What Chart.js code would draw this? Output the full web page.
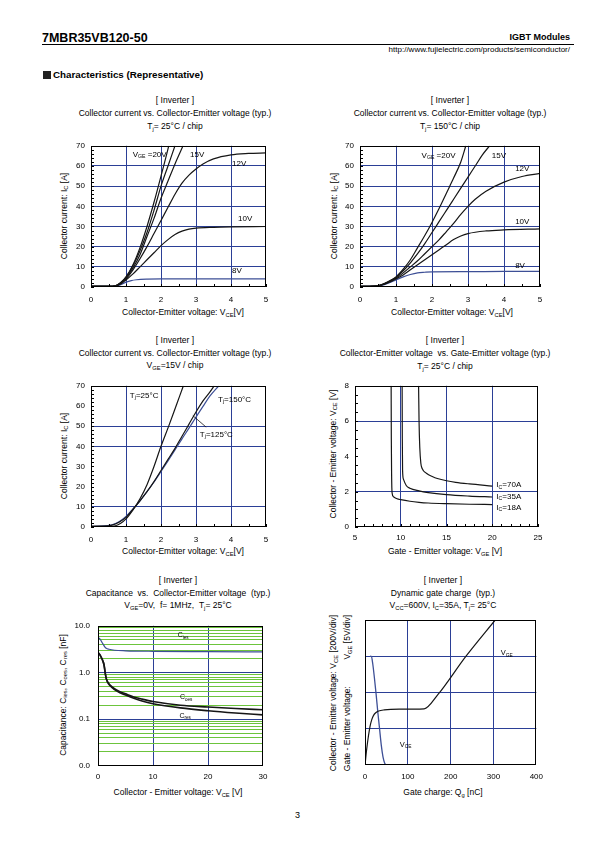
<!DOCTYPE html>
<html><head><meta charset="utf-8">
<script src="https://cdn.jsdelivr.net/npm/chart.js@4.4.1/dist/chart.umd.min.js"></script>
<style>
body{margin:0;width:595px;height:842px;background:#fff;position:relative;font-family:'Liberation Sans',Arial,sans-serif;color:#000;overflow:hidden}
.abs{position:absolute;white-space:nowrap;line-height:1}
.ttl{position:absolute;white-space:nowrap;font-size:8.5px;transform:translateX(-50%);line-height:1}
sub{font-size:68%;vertical-align:-1.5px;line-height:0}
.rot{position:absolute;white-space:nowrap;font-size:8.5px;transform:translate(-50%,-50%) rotate(-90deg);line-height:1.9;text-align:center}
canvas{position:absolute}
</style></head><body>
<div class="abs" style="left:42px;top:32px;font-size:12.5px;font-weight:bold">7MBR35VB120-50</div>
<div class="abs" style="right:25px;top:33px;font-size:9px;font-weight:bold">IGBT Modules</div>
<div style="position:absolute;left:42px;top:44px;width:532px;height:1px;background:#000"></div>
<div class="abs" style="right:25px;top:46px;font-size:8px">http://www.fujielectric.com/products/semiconductor/</div>
<div style="position:absolute;left:43px;top:71px;width:8px;height:8px;background:#222"></div>
<div class="abs" style="left:53px;top:70px;font-size:9.8px;font-weight:bold">Characteristics (Representative)</div>

<div class="ttl" style="left:175px;top:95.5px">[ Inverter ]</div>
<div class="ttl" style="left:175px;top:108.5px">Collector current vs. Collector-Emitter voltage (typ.)</div>
<div class="ttl" style="left:175px;top:121.5px">T<sub>j</sub>= 25°C / chip</div>
<div class="ttl" style="left:450px;top:95.5px">[ Inverter ]</div>
<div class="ttl" style="left:450px;top:108.5px">Collector current vs. Collector-Emitter voltage (typ.)</div>
<div class="ttl" style="left:450px;top:121.5px">T<sub>j</sub>= 150°C / chip</div>
<div class="ttl" style="left:175px;top:335.5px">[ Inverter ]</div>
<div class="ttl" style="left:175px;top:348.5px">Collector current vs. Collector-Emitter voltage (typ.)</div>
<div class="ttl" style="left:175px;top:360.5px">V<sub>GE</sub>=15V / chip</div>
<div class="ttl" style="left:445px;top:335.5px">[ Inverter ]</div>
<div class="ttl" style="left:445px;top:348.5px">Collector-Emitter voltage &nbsp;vs. Gate-Emitter voltage (typ.)</div>
<div class="ttl" style="left:445px;top:361.5px">T<sub>j</sub>= 25°C / chip</div>
<div class="ttl" style="left:178px;top:575.5px">[ Inverter ]</div>
<div class="ttl" style="left:178px;top:588.5px">Capacitance &nbsp;vs. &nbsp;Collector-Emitter voltage &nbsp;(typ.)</div>
<div class="ttl" style="left:178px;top:600.5px">V<sub>GE</sub>=0V, &nbsp;f= 1MHz, &nbsp;T<sub>j</sub>= 25°C</div>
<div class="ttl" style="left:443px;top:575.5px">[ Inverter ]</div>
<div class="ttl" style="left:443px;top:588.5px">Dynamic gate charge &nbsp;(typ.)</div>
<div class="ttl" style="left:443px;top:600.5px">V<sub>CC</sub>=600V, I<sub>C</sub>=35A, T<sub>j</sub>= 25°C</div>

<div class="ttl" style="left:183px;top:307.5px">Collector-Emitter voltage: V<sub>CE</sub>[V]</div>
<div class="ttl" style="left:452px;top:307.5px">Collector-Emitter voltage: V<sub>CE</sub>[V]</div>
<div class="ttl" style="left:183px;top:546.5px">Collector-Emitter voltage: V<sub>CE</sub>[V]</div>
<div class="ttl" style="left:445px;top:546.5px">Gate - Emitter voltage: V<sub>GE</sub> [V]</div>
<div class="ttl" style="left:178px;top:787.5px">Collector - Emitter voltage: V<sub>CE</sub> [V]</div>
<div class="ttl" style="left:443px;top:787.5px">Gate charge: Q<sub>g</sub> [nC]</div>

<div class="rot" style="left:64px;top:216px">Collector current: I<sub>C</sub> [A]</div>
<div class="rot" style="left:334px;top:216px">Collector current: I<sub>C</sub> [A]</div>
<div class="rot" style="left:64px;top:456px">Collector current: I<sub>C</sub> [A]</div>
<div class="rot" style="left:333px;top:454px">Collector - Emitter voltage: V<sub>CE</sub> [V]</div>
<div class="rot" style="left:63px;top:695px">Capacitance: C<sub>ies</sub>, C<sub>oes</sub>, C<sub>res</sub> [nF]</div>
<div class="rot" style="left:341px;top:693px;line-height:1.6"><div>Collector - Emitter voltage: V<sub>CE</sub> [200V/div]</div><div style="display:flex;justify-content:space-between"><span>Gate - Emitter voltage:</span><span>V<sub>GE</sub> [5V/div]</span></div></div>

<div class="abs" style="left:295px;top:811px;font-size:9px">3</div>

<script>
// ---------- DATA ----------
// Fig.1  Ic vs Vce, Tj=25°C  [Vce(V), Ic(A)]
const f1_VGE20a = [[0,0.3],[0.5,0.3],[0.7,0.6],[0.85,2.2],[1.0,5],[1.2,11],[1.4,19.5],[1.6,30],[1.8,42],[2.0,55],[2.2,68.5],[2.22,70]];
const f1_VGE20b = [[0,0.3],[0.5,0.3],[0.7,0.6],[0.85,2.1],[1.0,4.8],[1.2,10.5],[1.4,18],[1.6,27],[1.8,38],[2.0,50],[2.2,60],[2.4,70]];
const f1_VGE15  = [[0,0.3],[0.5,0.3],[0.7,0.6],[0.85,2],[1.0,4.5],[1.2,9.5],[1.4,16],[1.6,25],[1.8,34],[2.0,44],[2.2,52.5],[2.4,61],[2.63,70]];
const f1_VGE12  = [[0,0.3],[0.5,0.3],[0.7,0.5],[0.85,1.8],[1.0,4],[1.2,8.5],[1.4,14],[1.6,20],[1.8,26.5],[2.0,33],[2.2,39.5],[2.4,46],[2.6,51.5],[2.8,55.5],[3.0,58.5],[3.2,61],[3.5,63.5],[4.0,65.5],[4.5,66.2],[5,66.5]];
const f1_VGE10  = [[0,0.3],[0.5,0.3],[0.7,0.5],[0.85,1.5],[1.0,3.5],[1.2,6.5],[1.4,10],[1.6,13.5],[1.8,17],[2.0,20.5],[2.2,23.5],[2.4,26],[2.6,27.7],[2.8,28.7],[3.0,29.2],[3.5,29.6],[4,29.8],[5,30]];
const f1_VGE8   = [[0,0.3],[0.5,0.3],[0.7,0.4],[0.85,1.2],[1.0,2.4],[1.15,3.2],[1.3,3.6],[1.6,3.9],[2,4],[3,4],[4,4],[5,4]];
// Fig.2  Ic vs Vce, Tj=150°C
const f2_VGE20 = [[0,0.3],[0.4,0.4],[0.6,1.2],[0.8,2.8],[1.0,5],[1.2,8.8],[1.4,13.5],[1.6,19.5],[1.8,25.5],[2.0,32],[2.2,39],[2.4,46.5],[2.6,54],[2.8,62],[2.94,70]];
const f2_VGE15 = [[0,0.3],[0.4,0.4],[0.6,1.1],[0.8,2.7],[1.0,4.7],[1.2,8],[1.4,12],[1.6,16.5],[1.8,21.5],[2.0,27],[2.2,32.5],[2.4,38],[2.6,43.5],[2.8,49],[3.0,54.5],[3.2,60],[3.4,65.5],[3.6,70]];
const f2_VGE12 = [[0,0.3],[0.4,0.4],[0.6,1],[0.8,2.5],[1.0,4.3],[1.2,7],[1.4,10],[1.6,13],[1.8,16.5],[2.0,20],[2.2,23.5],[2.4,27.5],[2.6,31.5],[2.8,36],[3.0,40],[3.2,43.5],[3.5,47.5],[4.0,52],[4.5,54.8],[5,56.3]];
const f2_VGE10 = [[0,0.3],[0.4,0.4],[0.6,1],[0.8,2.3],[1.0,4],[1.2,6],[1.4,8.5],[1.6,11],[1.8,13.5],[2.0,16],[2.2,18.5],[2.4,21],[2.6,23.5],[2.8,25.3],[3.0,26.5],[3.5,27.8],[4.0,28.3],[5,28.8]];
const f2_VGE8  = [[0,0.3],[0.4,0.3],[0.6,0.8],[0.8,2],[1.0,3.5],[1.2,5],[1.4,6.2],[1.6,7],[1.8,7.3],[2.0,7.5],[3,7.6],[4,7.7],[5,7.7]];
// Fig.3  Ic vs Vce, Vge=15V
const f3_Tj25  = [[0,0.3],[0.5,0.3],[0.7,0.6],[0.85,1.8],[1.0,4],[1.2,8.5],[1.4,14],[1.6,21],[1.8,30],[2.0,40],[2.22,50],[2.43,60],[2.64,70]];
const f3_Tj125 = [[0,0.3],[0.4,0.4],[0.6,0.9],[0.8,2.4],[1.0,4.8],[1.2,8.8],[1.4,13],[1.6,17.5],[1.8,22.5],[2.0,28],[2.2,33.5],[2.4,39],[2.6,45],[2.8,51],[3.0,57],[3.2,62.5],[3.4,67],[3.52,70]];
const f3_Tj150 = [[0,0.3],[0.3,0.4],[0.6,1.1],[0.8,2.6],[1.0,5.2],[1.2,9],[1.4,13],[1.6,17.5],[1.8,22.3],[2.0,27.5],[2.2,32.8],[2.4,38.2],[2.6,43.7],[2.8,49],[3.0,54.5],[3.2,59.8],[3.4,65],[3.65,70]];
// Fig.4  Vce vs Vge, Tj=25°C  [Vge(V), Vce(V)]
const f4_IC70 = [[11.95,8],[12.0,6],[12.08,4.5],[12.2,3.6],[12.35,3.3],[12.8,3.05],[13.5,2.85],[14,2.75],[15,2.62],[16,2.53],[17.5,2.44],[20,2.32]];
const f4_IC35 = [[10.15,8],[10.17,5],[10.2,3.2],[10.3,2.7],[10.6,2.35],[11,2.2],[12,2.05],[13,1.95],[15,1.83],[17.5,1.75],[20,1.7]];
const f4_IC18 = [[8.95,8],[8.97,5],[9.0,3],[9.05,1.95],[9.2,1.72],[9.6,1.6],[10,1.55],[11,1.46],[12,1.4],[13,1.36],[15,1.32],[17.5,1.29],[20,1.27]];
// Fig.5  Capacitance vs Vce  [Vce(V), C(nF)]
const f5_Cies = [[0,5.6],[0.3,5.3],[0.6,4.7],[0.9,4.1],[1.2,3.6],[1.5,3.3],[2,3.15],[3,3.0],[5,2.92],[10,2.85],[20,2.8],[30,2.76]];
const f5_Coes = [[0,2.65],[0.3,2.45],[0.6,2.1],[0.9,1.75],[1.1,1.45],[1.3,1.0],[1.5,0.75],[1.8,0.62],[2.2,0.54],[3,0.45],[4,0.39],[5,0.35],[6.5,0.3],[8,0.27],[10,0.24],[15,0.2],[20,0.183],[25,0.17],[30,0.16]];
const f5_Cres = [[0,2.65],[0.3,2.45],[0.6,2.1],[0.9,1.75],[1.1,1.45],[1.3,1.0],[1.5,0.74],[1.8,0.6],[2.2,0.52],[3,0.43],[4,0.37],[5,0.33],[6.5,0.28],[8,0.245],[10,0.215],[15,0.175],[20,0.152],[25,0.136],[30,0.124]];
const f5_yTicks = [0.01,0.02,0.03,0.04,0.05,0.06,0.07,0.08,0.09,0.1,0.2,0.3,0.4,0.5,0.6,0.7,0.8,0.9,1,2,3,4,5,6,7,8,9,10];
const f5_yLabels = {0.01:'0.0',0.1:'0.1',1:'1.0',10:'10.0'};
// Fig.6  Gate charge  [Qg(nC), V]
const f6_VGE = [[0,0],[4,2.2],[8,4],[12,5.4],[16,6.3],[20,6.85],[25,7.2],[32,7.45],[45,7.6],[80,7.7],[138,7.75],[170,9.7],[235,14.95],[304,20]];
const f6_VCE = [[12,600],[15,598],[18,560],[22,480],[26,390],[30,290],[34,200],[38,110],[42,45],[46,10],[50,0]];

// ---------- STYLE ----------
const BLUE='#2b3f96', GREEN='#6cc43c', INK='#161616', CBLUE='#3d4f96';
const FONT="'Liberation Sans', Arial, sans-serif";
const NONE='rgba(0,0,0,0)';

function drawRich(ctx,x,y,parts,size){
  ctx.textBaseline='middle'; ctx.textAlign='left'; ctx.fillStyle='#000';
  let cx=x;
  parts.forEach(p=>{
    const sub=Array.isArray(p); const t=sub?p[0]:p;
    ctx.font=(sub?size*0.65:size)+'px '+FONT;
    ctx.fillText(t,cx,sub?y+2:y);
    cx+=ctx.measureText(t).width;
  });
}

const deco={
  id:'deco',
  afterDatasetsDraw(chart){
    const o=chart.options.plugins.deco||{}; const ctx=chart.ctx; const a=chart.chartArea; const sx=chart.scales.x;
    ctx.save();
    (o.lines||[]).forEach(l=>{const ys=chart.scales[l.axis||'y'];ctx.beginPath();ctx.strokeStyle=INK;ctx.lineWidth=0.8;
      ctx.moveTo(sx.getPixelForValue(l.from[0]),ys.getPixelForValue(l.from[1]));ctx.lineTo(sx.getPixelForValue(l.to[0]),ys.getPixelForValue(l.to[1]));ctx.stroke();});
    (o.labels||[]).forEach(L=>{const ys=chart.scales[L.axis||'y'];drawRich(ctx,sx.getPixelForValue(L.x),ys.getPixelForValue(L.y),L.parts,L.size||8);});
    ctx.strokeStyle='#000';ctx.lineWidth=1;
    if(o.xMinor){for(let i=0;;i++){const v=sx.min+i*o.xMinor;if(v>sx.max+1e-9)break;const px=Math.round(sx.getPixelForValue(v))+0.5;
      ctx.beginPath();ctx.moveTo(px,a.bottom);ctx.lineTo(px,a.bottom-3);ctx.stroke();}}
    if(o.yMinor){const sy=chart.scales.y;for(let i=0;;i++){const v=sy.min+i*o.yMinor;if(v>sy.max+1e-9)break;const py=Math.round(sy.getPixelForValue(v))+0.5;
      ctx.beginPath();ctx.moveTo(a.left,py);ctx.lineTo(a.left+3,py);ctx.stroke();}}
    ctx.strokeRect(Math.round(a.left)+0.5,Math.round(a.top)+0.5,Math.round(a.right-a.left)-1,Math.round(a.bottom-a.top)-1);
    ctx.restore();
  }
};

function ds(arr,color,width,yAxisID){
  return {data:arr.map(([x,y])=>({x,y})),showLine:true,borderColor:color,borderWidth:width||1.2,pointRadius:0,fill:false,
    cubicInterpolationMode:'monotone',yAxisID:yAxisID||'y'};
}
function gridFn(list,color){return c=>(c.tick&&list.some(v=>Math.abs(v-c.tick.value)<1e-9))?color:NONE;}

function makeChart(cfg){
  const pad={l:42,t:8,r:12,b:24};
  const [L,T,Wd,Ht]=cfg.area;
  const cv=document.createElement('canvas');
  const W=Wd+pad.l+pad.r,H=Ht+pad.t+pad.b;
  cv.width=W;cv.height=H;cv.style.width=W+'px';cv.style.height=H+'px';
  cv.style.left=(L-pad.l)+'px';cv.style.top=(T-pad.t)+'px';
  document.body.appendChild(cv);
  const tickFont={size:8,family:FONT};
  const xTicks=Object.assign({font:tickFont,color:'#000',padding:cfg.xPad||8,maxRotation:0,autoSkip:false},cfg.x.ticks||{});
  const yTicks=Object.assign({font:tickFont,color:'#000',padding:cfg.yPad||6,autoSkip:false},cfg.y.ticks||{});
  const x=Object.assign({type:'linear',afterFit:s=>{s.height=pad.b;},
    grid:{color:gridFn(cfg.xGrid,BLUE),drawTicks:false,lineWidth:1},border:{display:false}},cfg.x,{ticks:xTicks});
  const y=Object.assign({type:'linear',afterFit:s=>{s.width=pad.l;},
    grid:{color:cfg.yGridFn||gridFn(cfg.yGrid,BLUE),drawTicks:false,lineWidth:1},border:{display:false}},cfg.y,{ticks:yTicks});
  const scales={x,y};
  if(cfg.y2) scales.y2=cfg.y2;
  new Chart(cv,{type:'scatter',data:{datasets:cfg.datasets},plugins:[deco],
    options:{responsive:false,animation:false,devicePixelRatio:1,
      layout:{padding:{left:0,top:pad.t,right:pad.r,bottom:0}},
      plugins:{legend:{display:false},tooltip:{enabled:false},deco:cfg.deco},
      scales}});
}

// Fig 1
makeChart({area:[91,143,175,144],
  x:{min:0,max:5,ticks:{stepSize:1}}, y:{min:0,max:70,ticks:{stepSize:10}},
  xGrid:[1,2,3,4], yGrid:[10,20,30,40,50,60],
  datasets:[ds(f1_VGE20a,INK),ds(f1_VGE20b,INK),ds(f1_VGE15,INK),ds(f1_VGE12,INK),ds(f1_VGE10,INK),ds(f1_VGE8,CBLUE)],
  deco:{xMinor:0.5,yMinor:2,labels:[
    {x:1.19,y:65.5,parts:['V',['GE'],' =20V']},{x:2.83,y:65.5,parts:['15V']},{x:4.03,y:61.3,parts:['12V']},
    {x:4.2,y:33.7,parts:['10V']},{x:4.03,y:7.8,parts:['8V']}]}});
// Fig 2
makeChart({area:[360,143,180,144],
  x:{min:0,max:5,ticks:{stepSize:1}}, y:{min:0,max:70,ticks:{stepSize:10}},
  xGrid:[1,2,3,4], yGrid:[10,20,30,40,50,60],
  datasets:[ds(f2_VGE20,INK),ds(f2_VGE15,INK),ds(f2_VGE12,INK),ds(f2_VGE10,INK),ds(f2_VGE8,CBLUE)],
  deco:{xMinor:0.5,yMinor:2,labels:[
    {x:1.71,y:65,parts:['V',['GE'],' =20V']},{x:3.66,y:65,parts:['15V']},{x:4.31,y:58.5,parts:['12V']},
    {x:4.31,y:32.3,parts:['10V']},{x:4.31,y:10.3,parts:['8V']}]}});
// Fig 3
makeChart({area:[91,383,175,144],
  x:{min:0,max:5,ticks:{stepSize:1}}, y:{min:0,max:70,ticks:{stepSize:10}},
  xGrid:[1,2,3,4], yGrid:[10,40,50],
  datasets:[ds(f3_Tj25,INK),ds(f3_Tj125,INK),ds(f3_Tj150,CBLUE)],
  deco:{xMinor:0.5,yMinor:2,lines:[{from:[3.29,49.5],to:[2.91,55.2]}],labels:[
    {x:1.11,y:65.2,parts:['T',['j'],'=25°C']},{x:3.63,y:63.2,parts:['T',['j'],'=150°C']},{x:3.11,y:45.8,parts:['T',['j'],'=125°C']}]}});
// Fig 4
makeChart({area:[355,383,183,144],
  x:{min:5,max:25,ticks:{stepSize:5}}, y:{min:0,max:8,ticks:{stepSize:2}},
  xGrid:[10,15,20], yGrid:[2,6], xPad:6, yPad:6,
  datasets:[ds(f4_IC70,INK),ds(f4_IC35,INK),ds(f4_IC18,INK)],
  deco:{xMinor:1,yMinor:0.5,labels:[
    {x:20.45,y:2.37,parts:['I',['C'],'=70A']},{x:20.45,y:1.72,parts:['I',['C'],'=35A']},{x:20.45,y:1.11,parts:['I',['C'],'=18A']}]}});
// Fig 5
makeChart({area:[98,621,165,145],
  x:{min:0,max:30,ticks:{stepSize:10}},
  y:{type:'logarithmic',min:0.01,max:10,
     afterBuildTicks:s=>{s.ticks=f5_yTicks.map(v=>({value:v}));},
     ticks:{callback:v=>{for(const k in f5_yLabels){if(Math.abs(+k-v)<1e-9)return f5_yLabels[k];}return '';}}},
  xGrid:[10,20], xPad:6, yPad:8,
  yGridFn:c=>{if(!c.tick)return NONE;const v=c.tick.value;const lg=Math.log10(v);
     if(Math.abs(v-0.01)<1e-9||Math.abs(v-10)<1e-9)return NONE;
     return Math.abs(lg-Math.round(lg))<1e-6?BLUE:GREEN;},
  datasets:[ds(f5_Cies,CBLUE,1.2),ds(f5_Coes,INK,1.6),ds(f5_Cres,INK,1.6)],
  deco:{labels:[
    {x:14.5,y:6.2,parts:['C',['ies']],size:7},{x:14.9,y:0.295,parts:['C',['oes']],size:7},{x:14.8,y:0.119,parts:['C',['res']],size:7}]}});
// Fig 6
makeChart({area:[365,620,173,145],
  x:{min:0,max:400,ticks:{stepSize:100}},
  y:{min:0,max:800,ticks:{stepSize:200,display:false}},
  y2:{type:'linear',display:false,min:0,max:20},
  xGrid:[100,200,300], yGrid:[200,400,600], xPad:7,
  datasets:[ds(f6_VGE,INK,1.2,'y2'),ds(f6_VCE,CBLUE,1.3,'y')],
  deco:{labels:[
    {x:317,y:15.4,axis:'y2',parts:['V',['GE']],size:7.5},{x:81,y:2.76,axis:'y2',parts:['V',['CE']],size:7.5}]}});
</script>
</body></html>
